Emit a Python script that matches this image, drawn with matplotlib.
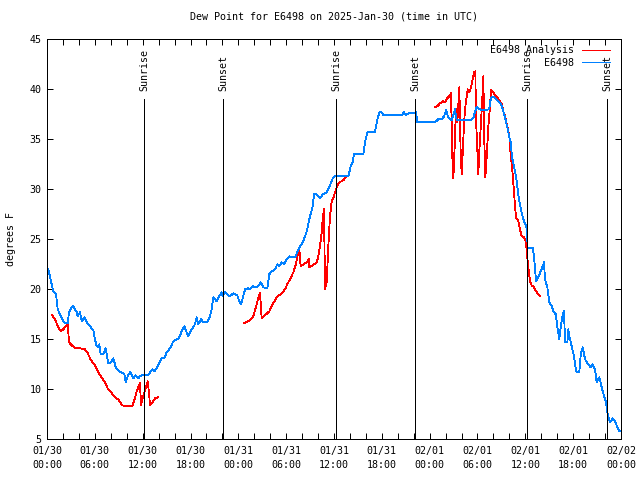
import matplotlib
matplotlib.use("Agg")
import matplotlib.pyplot as plt
import numpy as np

# Hours since 2025-01-30 00:00 UTC
obs_hours = [0.16, 0.59, 0.79, 1.13, 1.34, 1.63, 2.04, 2.26, 2.60, 2.76, 3.10, 3.30, 3.73, 3.85, 4.14, 4.35,
             4.68, 4.98, 5.39, 5.81, 6.02, 6.23, 6.44, 6.56, 6.74, 7.06, 7.36, 7.69, 8.03, 8.32, 8.62, 9.03,
             9.37, 9.70, 9.87, 10.12, 10.41, 10.62, 10.83, 11.13, 11.45, 11.67, 11.88, 12.71, 12.92, 13.21,
             13.46, 13.89, 14.39, 14.71, 15.01, 15.43, 15.84, 16.27, 16.47, 16.90, 17.22, 17.72, 18.15, 18.56,
             18.78, 18.98, 19.32, 19.61, 20.03, 20.36, 20.66, 20.86, 21.29, 21.61, 21.91, 22.04, 22.33, 22.74,
             22.96, 23.37, 23.87, 24.21, 24.34, 24.84, 25.25, 25.46, 25.80, 26.09, 26.50, 26.81, 27.13, 27.63,
             27.88, 28.19, 28.60, 28.89, 29.14, 29.44, 29.73, 30.07, 30.39, 30.69, 31.11, 31.40, 31.74, 32.15,
             32.58, 32.99, 33.33, 33.49, 33.83, 34.24, 34.58, 35.09, 35.41, 35.84, 36.13, 37.79, 38.10, 38.35,
             38.51, 39.68, 39.89, 40.18, 41.14, 41.36, 41.68, 41.98, 42.19, 44.49, 44.78, 45.03, 45.32, 45.75,
             46.29, 46.45, 48.67, 49.08, 49.51, 49.80, 50.05, 50.34, 50.76, 51.18, 51.39, 53.06, 53.47, 53.69,
             53.90, 54.31, 54.73, 55.48, 55.57, 55.78, 56.07, 56.32, 56.61, 56.91, 57.16, 57.45, 57.74, 57.99,
             58.17, 58.33, 58.58, 58.83, 58.99, 59.17, 59.33, 59.55, 59.83, 60.08, 60.25, 60.27, 60.93, 61.09,
             61.34, 61.63, 61.93, 62.18, 62.34, 62.47, 62.76, 63.01, 63.31, 63.51, 63.81, 64.01, 64.26, 64.44,
             64.69, 64.85, 64.98, 65.27, 65.39, 65.52, 65.82, 66.11, 66.36, 66.77, 66.95, 67.20, 67.49, 67.90,
             68.20, 68.45, 68.74, 68.95, 69.28, 69.58, 69.87, 70.12, 70.28, 70.62, 70.96, 71.25, 71.54, 71.79,
             72.0]
obs_vals = [22.0, 20.5, 19.8, 19.5, 18.0, 17.5, 16.8, 16.6, 16.6, 17.7, 18.2, 18.3, 17.7, 17.3, 17.7, 16.8,
            17.2, 16.7, 16.3, 15.9, 15.0, 14.3, 14.2, 14.5, 13.5, 13.5, 14.1, 12.6, 12.7, 13.1, 12.2, 11.8,
            11.7, 11.5, 10.7, 11.3, 11.7, 11.5, 11.1, 11.4, 11.1, 11.3, 11.4, 11.4, 11.7, 12.0,
            11.8, 12.3, 13.1, 13.1, 13.7, 14.1, 14.8, 15.0, 15.0, 15.8, 16.3, 15.3, 16.0, 16.5,
            17.2, 16.5, 17.0, 16.7, 16.7, 17.1, 18.0, 19.2, 18.8, 19.3, 19.7, 19.3, 19.7, 19.4,
            19.3, 19.6, 19.4, 18.6, 18.5, 20.0, 20.1, 20.0, 20.3, 20.2, 20.3, 20.7, 20.2, 20.1,
            21.5, 21.8, 22.0, 22.5, 22.3, 22.7, 22.5, 23.0, 23.3, 23.2, 23.2, 23.7, 24.3, 24.8,
            25.8, 27.3, 28.3, 29.5, 29.5, 29.1, 29.5, 29.7, 30.2, 31.1, 31.3, 31.3, 32.3, 32.7,
            33.5, 33.5, 34.7, 35.7, 35.7, 36.7, 37.7, 37.7, 37.4, 37.4, 37.7, 37.4, 37.6, 37.6,
            37.7, 36.7, 36.7, 37.0, 37.0, 37.3, 37.9, 37.2, 36.9, 38.0, 36.9, 36.9, 37.1, 37.8,
            38.2, 38.0, 37.9, 38.0, 38.8, 39.2, 39.2, 39.0, 38.8, 38.6, 38.0, 37.2, 36.2, 35.2,
            34.7, 33.2, 32.3, 31.3, 30.3, 29.2, 28.5, 27.6, 26.8, 26.4, 25.7, 24.1, 24.1, 23.3,
            20.8, 21.2, 21.8, 22.3, 22.7, 21.0, 20.2, 18.7, 18.3, 17.8, 17.5, 16.3, 15.0, 16.2,
            17.5, 17.8, 14.7, 14.7, 16.0, 15.3, 14.3, 13.3, 11.8, 11.7, 13.5, 14.2, 13.0, 12.5,
            12.2, 12.5, 12.0, 10.7, 11.2, 10.2, 9.3, 8.7, 7.7, 6.7, 7.1, 6.8, 6.2, 5.8,
            5.8]

ana1_hours = [0.66, 1.00, 1.42, 1.76, 2.04, 2.47, 2.60, 2.76, 3.10, 3.60, 4.14, 4.77, 5.11, 5.52, 5.93, 6.36,
              6.77, 7.19, 7.61, 8.03, 8.53, 8.94, 9.45, 10.00, 10.70, 10.95, 11.25, 11.54, 11.67, 11.79,
              11.95, 12.21, 12.38, 12.63, 12.79, 12.92, 13.21, 13.55, 13.89]
ana1_vals = [17.4, 17.0, 16.2, 15.8, 16.0, 16.4, 16.6, 14.7, 14.4, 14.1, 14.1, 14.0, 13.6, 12.9, 12.5, 11.8,
             11.3, 10.8, 10.1, 9.7, 9.2, 9.0, 8.4, 8.3, 8.3, 8.9, 9.8, 10.4, 10.6, 8.4,
             9.0, 9.7, 10.1, 10.8, 9.7, 8.4, 8.7, 9.1, 9.2]

ana2_hours = [24.75, 25.25, 25.88, 26.30, 26.63, 26.72, 26.93, 27.35, 27.89, 28.31, 28.81, 29.44, 29.85,
              30.14, 30.48, 30.90, 31.23, 31.40, 31.65, 31.82, 32.15, 32.58, 32.87, 32.90, 33.33, 33.83,
              34.03, 34.24, 34.46, 34.58, 34.75, 34.87, 35.09, 35.29, 35.50, 35.71, 35.91, 36.13, 36.34,
              36.67, 37.17, 37.59]
ana2_vals = [16.6, 16.8, 17.3, 18.5, 19.5, 19.6, 17.1, 17.4, 17.8, 18.5, 19.2, 19.6, 20.0,
             20.5, 21.0, 21.7, 22.5, 23.3, 24.0, 22.3, 22.5, 22.7, 23.0, 22.2, 22.4, 22.7,
             23.3, 24.3, 25.7, 27.0, 28.0, 20.0, 20.8, 24.3, 27.3, 28.8, 29.1, 29.7, 30.2,
             30.7, 30.9, 31.3]

ana3_hours = [48.67, 48.96, 49.30, 49.64, 49.92, 50.21, 50.46, 50.68, 50.84, 50.97, 51.09, 51.30, 51.47,
              51.72, 51.89, 52.02, 52.15, 52.31, 52.43, 52.65, 52.77, 52.97, 53.19, 53.40, 53.56, 53.73,
              53.81, 53.98, 54.10, 54.23, 54.44, 54.60, 54.73, 54.85, 54.98, 55.16, 55.36, 55.57, 55.69,
              55.98, 56.20, 56.48, 56.74, 57.04, 57.24, 57.45, 57.74, 57.99, 58.17, 58.33, 58.49, 58.67,
              58.83, 59.12, 59.33, 59.55, 59.83, 60.08, 60.24, 60.37, 60.58, 60.79, 61.09, 61.34, 61.63,
              61.84]
ana3_vals = [38.2, 38.3, 38.6, 38.8, 38.7, 39.1, 39.3, 39.6, 33.3, 31.1, 33.3, 38.0, 36.7,
             40.2, 33.5, 31.5, 33.7, 36.5, 38.0, 39.3, 40.0, 39.7, 40.2, 41.0, 41.7, 41.8,
             37.0, 34.0, 31.5, 33.8, 36.7, 39.0, 41.3, 35.0, 31.2, 33.3, 36.3, 38.3, 39.9,
             39.7, 39.4, 39.2, 38.9, 38.5, 37.8, 37.3, 36.3, 35.3, 33.3, 32.3, 30.7, 28.7,
             27.2, 26.8, 26.0, 25.3, 25.2, 24.7, 23.2, 22.3, 20.8, 20.4, 20.2, 19.8, 19.5,
             19.3]

sun_hours = [12.2, 22.1, 36.25, 46.2, 60.25, 70.3]
sun_labels = ["Sunrise", "Sunset", "Sunrise", "Sunset", "Sunrise", "Sunset"]

tick_hours = list(range(0, 73, 6))
tick_labels = ["01/30\n00:00", "01/30\n06:00", "01/30\n12:00", "01/30\n18:00",
               "01/31\n00:00", "01/31\n06:00", "01/31\n12:00", "01/31\n18:00",
               "02/01\n00:00", "02/01\n06:00", "02/01\n12:00", "02/01\n18:00",
               "02/02\n00:00"]

FONT = "DejaVu Sans Mono"
FS = 7.2
plt.rcParams['font.family'] = FONT

fig = plt.figure(figsize=(6.4, 4.8), dpi=100)
ax = fig.add_axes([47/640, 1 - 439.3/480, 574/640, 400/480])

red = "#ff0000"
blue = "#0080ff"
lw = 0.72
dlw = 0.6

ax.plot(ana1_hours, ana1_vals, color=red, lw=dlw, label="E6498 Analysis", antialiased=False)
ax.plot(ana2_hours, ana2_vals, color=red, lw=dlw, antialiased=False)
ax.plot(ana3_hours, ana3_vals, color=red, lw=dlw, antialiased=False)
ax.plot(obs_hours, obs_vals, color=blue, lw=dlw, label="E6498", antialiased=False)

for h, lab in zip(sun_hours, sun_labels):
    ax.plot([h, h], [5, 39.05], color="black", lw=lw, antialiased=False)
    ax.text(h, 39.8, lab, rotation=90, ha="center", va="bottom", fontsize=FS)

ax.set_xlim(0, 72)
ax.set_ylim(5, 45)
ax.set_xticks(tick_hours)
ax.set_xticklabels(tick_labels, fontsize=FS, linespacing=1.5)
ax.set_xticks(np.arange(0, 73, 2), minor=True)
ax.set_yticks(np.arange(5, 46, 5))
ax.tick_params(axis="both", which="both", direction="in", top=True, right=True,
               length=4, width=0.72, labelsize=FS, pad=4)
ax.tick_params(axis="x", which="major", pad=5)

for s in ax.spines.values():
    s.set_linewidth(0.72)

ax.set_ylabel("degrees F", fontsize=FS, labelpad=10)
ax.set_title("Dew Point for E6498 on 2025-Jan-30 (time in UTC)", fontsize=FS, pad=14)

leg = ax.legend(loc="upper right", frameon=False, markerfirst=False, fontsize=FS,
                handlelength=2.8, handletextpad=0.8, labelspacing=0.25,
                borderaxespad=0.2, bbox_to_anchor=(0.991, 1.0))
for line in leg.get_lines():
    line.set_linewidth(0.72)

fig.savefig("out.png", dpi=100)
